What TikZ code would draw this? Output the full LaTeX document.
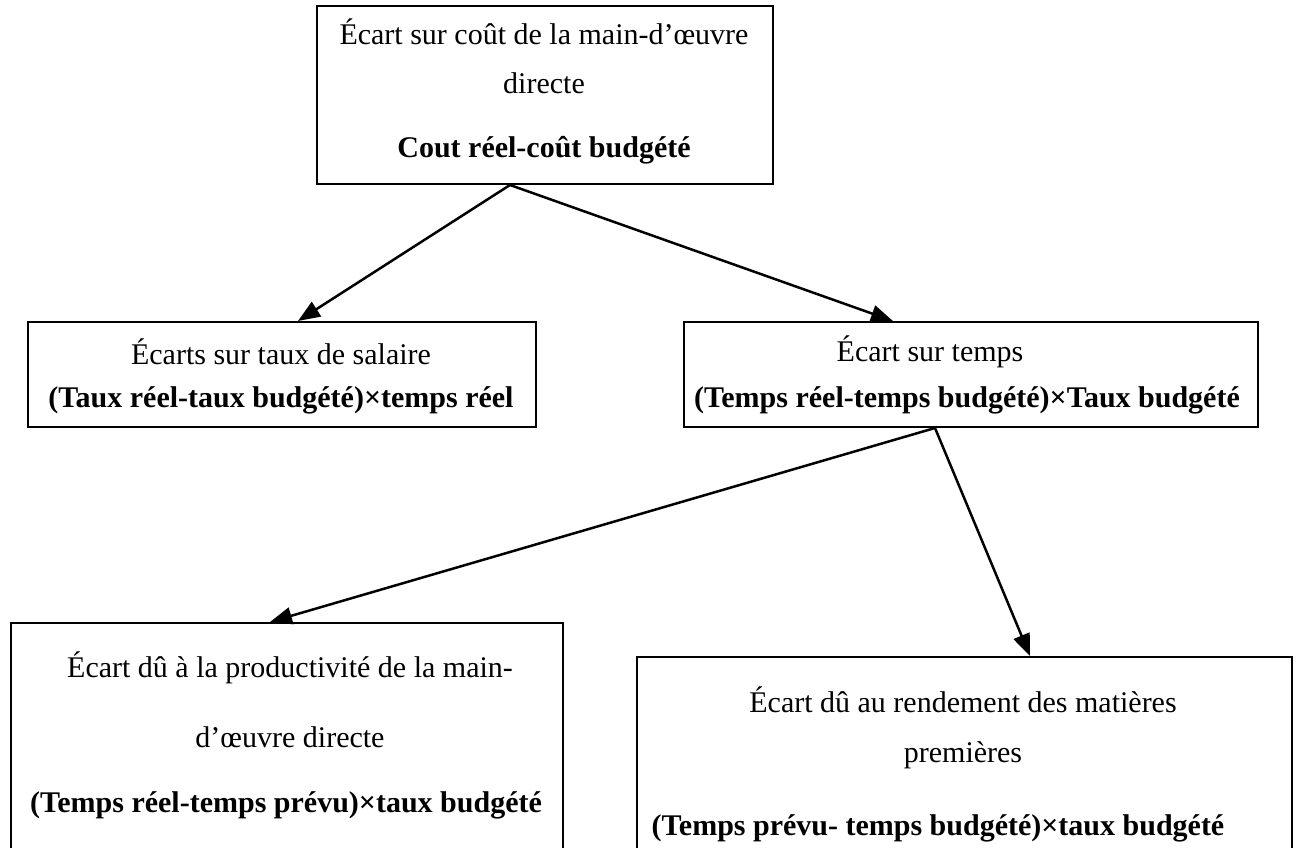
\documentclass[tikz,border=0pt]{standalone}
\usepackage{fontspec}
\setmainfont{Liberation Serif}
\usetikzlibrary{arrows.meta,calc}
\begin{document}
\begin{tikzpicture}[x=1pt,y=-1pt,
  box/.style={draw,line width=2pt,anchor=north west,inner sep=0pt},
  txt/.style={inner sep=0pt,anchor=center,font=\fontsize{30}{34}\selectfont},
  btxt/.style={txt,font=\fontsize{30}{34}\selectfont\bfseries},
  arr/.style={line width=2.5pt,-{Triangle[length=22pt,width=17pt]}}]
\useasboundingbox (0,0) rectangle (1304,848);
\clip (0,0) rectangle (1304,848);

% boxes
\node[box,minimum width=456pt,minimum height=178pt] (top) at (316,5) {};
\node[box,minimum width=508pt,minimum height=105pt] (salaire) at (27,321) {};
\node[box,minimum width=574pt,minimum height=105pt] (temps) at (683,321) {};
\node[box,minimum width=552pt,minimum height=260pt] (prod) at (10,622) {};
\node[box,minimum width=655pt,minimum height=230pt] (rend) at (636,656) {};

% texts
\node[txt]  (t1) at (544,32)  {Écart sur coût de la main-d’œuvre};
\node[txt]  (t2) at (544,83)  {directe};
\node[btxt] (t3) at (544,150) {Cout réel-coût budgété};

\node[txt]  (s1) at (281,352) {Écarts sur taux de salaire};
\node[btxt] (s2) at (281,400) {(Taux réel-taux budgété)×temps réel};

\node[txt]  (m1) at (930,352) {Écart sur temps};
\node[btxt] (m2) at (967,400) {(Temps réel-temps budgété)×Taux budgété};

\node[txt]  (p1) at (290,668) {Écart dû à la productivité de la main-};
\node[txt]  (p2) at (290,737) {d’œuvre directe};
\node[btxt] (p3) at (286,805) {(Temps réel-temps prévu)×taux budgété};

\node[txt]  (r1) at (963,700) {Écart dû au rendement des matières};
\node[txt]  (r2) at (963,755) {premières};
\node[btxt] (r3) at (938,828) {(Temps prévu- temps budgété)×taux budgété};

% connector end points on the box edges
\coordinate (topout)   at ($(top.south west)+(194,0)$);
\coordinate (salin)    at ($(salaire.north west)+(271,0)$);
\coordinate (tempsin)  at ($(temps.north west)+(210,0)$);
\coordinate (tempsout) at ($(temps.south west)+(252,0)$);
\coordinate (prodin)   at ($(prod.north west)+(260,0)$);
\coordinate (rendin)   at ($(rend.north west)+(394,0)$);

% connectors
\draw[arr] (topout) -- (salin);
\draw[arr] (topout) -- (tempsin);
\draw[arr] (tempsout) -- (prodin);
\draw[arr] (tempsout) -- (rendin);
\end{tikzpicture}
\end{document}
